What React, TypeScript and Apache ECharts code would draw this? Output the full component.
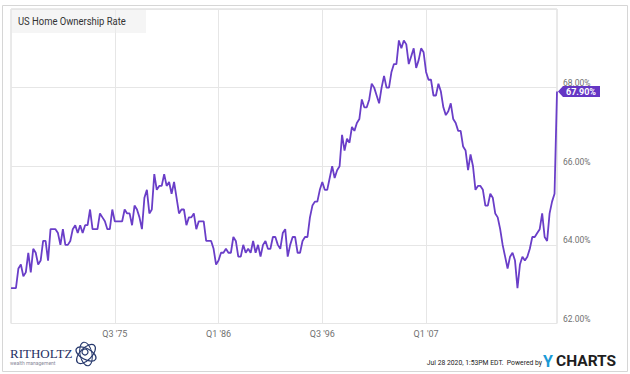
import React, { useEffect, useRef } from 'react';
import * as echarts from 'echarts';

// Quarter categories Q1 1965 .. Q2 2020
const firstYear = 1965;
const lastYear = 2020;
const lastQuarter = 2;
const quarters: string[] = [];
for (let y = firstYear; y <= lastYear; y++) {
  for (let q = 1; q <= 4; q++) {
    if (y === lastYear && q > lastQuarter) break;
    quarters.push(`Q${q} '${String(y).slice(2)}`);
  }
}

const xTickLabels = ["Q3 '75", "Q1 '86", "Q3 '96", "Q1 '07"];
const yMin = 62;
const yMax = 70;
const yStep = 2;

// US home ownership rate (%), quarterly
const rate1965to1974 = [
  62.9, 62.9, 62.9, 63.4,
  63.5, 63.2, 63.3, 63.8,
  63.3, 63.9, 63.8, 63.5,
  63.6, 64.1, 64.1, 63.6,
  64.4, 64.4, 64.4, 64.3,
  64.0, 64.4, 64.0, 64.0,
  64.1, 64.4, 64.5, 64.3,
  64.5, 64.3, 64.5, 64.5,
  64.9, 64.4, 64.4, 64.4,
  64.8, 64.7, 64.6, 64.4,
];
const rate1975to1984 = [
  64.4, 64.9, 64.6, 64.6,
  64.6, 64.6, 64.9, 64.8,
  64.8, 64.5, 65.0, 64.9,
  64.7, 64.4, 65.2, 65.4,
  64.8, 64.9, 65.8, 65.4,
  65.5, 65.5, 65.8, 65.5,
  65.6, 65.3, 65.6, 65.2,
  64.8, 64.9, 64.9, 64.5,
  64.7, 64.7, 64.8, 64.4,
  64.6, 64.6, 64.6, 64.1,
];
const rate1985to1994 = [
  64.1, 64.1, 63.9, 63.5,
  63.6, 63.8, 63.8, 63.9,
  63.8, 63.8, 64.2, 64.1,
  63.7, 63.7, 64.0, 63.8,
  63.9, 63.8, 64.1, 63.8,
  64.0, 63.7, 64.0, 64.1,
  63.9, 63.9, 64.2, 64.2,
  64.0, 63.9, 64.3, 64.4,
  63.7, 64.0, 64.2, 64.2,
  63.8, 63.8, 64.1, 64.2,
];
const rate1995to2004 = [
  64.2, 64.7, 65.0, 65.1,
  65.1, 65.4, 65.6, 65.4,
  65.4, 65.7, 66.0, 65.7,
  65.9, 66.0, 66.8, 66.4,
  66.7, 66.6, 67.0, 66.9,
  67.1, 67.2, 67.7, 67.5,
  67.5, 67.7, 68.1, 68.0,
  67.8, 67.6, 68.0, 68.3,
  68.0, 68.0, 68.4, 68.6,
  68.6, 69.2, 69.0, 69.2,
];
const rate2005to2014 = [
  69.1, 68.6, 68.8, 69.0,
  68.5, 68.7, 69.0, 68.9,
  68.4, 68.2, 68.2, 67.8,
  67.8, 68.1, 67.9, 67.5,
  67.3, 67.4, 67.6, 67.2,
  67.1, 66.9, 66.9, 66.5,
  66.4, 65.9, 66.3, 66.0,
  65.4, 65.5, 65.5, 65.4,
  65.0, 65.0, 65.3, 65.2,
  64.8, 64.7, 64.4, 64.0,
];
const rate2015to2020 = [
  63.7, 63.4, 63.7, 63.8,
  63.6, 62.9, 63.5, 63.7,
  63.6, 63.7, 63.9, 64.2,
  64.2, 64.3, 64.4, 64.8,
  64.2, 64.1, 64.8, 65.1,
  65.3, 67.9,
];

const rates = [
  ...rate1965to1974,
  ...rate1975to1984,
  ...rate1985to1994,
  ...rate1995to2004,
  ...rate2005to2014,
  ...rate2015to2020,
];

const LINE = '#6a3ec8';
const TAG = '#6536c4';

export default function App() {
  const ref = useRef<HTMLDivElement>(null);
  useEffect(() => {
    if (!ref.current) return;
    const chart = echarts.init(ref.current, undefined, { renderer: 'svg' });
    const lastIdx = rates.length - 1;
    chart.setOption({
      animation: false,
      backgroundColor: '#ffffff',
      grid: {
        show: true,
        left: 11,
        top: 9,
        right: 73,
        bottom: 50.5,
        borderColor: '#d4d4d4',
        borderWidth: 1,
        backgroundColor: 'transparent',
      },
      xAxis: {
        type: 'category',
        data: quarters,
        boundaryGap: false,
        axisLine: { show: false },
        axisTick: { show: false },
        axisLabel: {
          interval: (_i: number, v: string) => xTickLabels.includes(v),
          color: '#707070',
          fontFamily: 'Roboto',
          fontSize: 9,
          margin: 6,
        },
        splitLine: {
          show: true,
          interval: (_i: number, v: string) => xTickLabels.includes(v),
          lineStyle: { color: '#e6e6e6', width: 1 },
        },
      },
      yAxis: {
        type: 'value',
        position: 'right',
        min: yMin,
        max: yMax,
        interval: yStep,
        axisLine: { show: false },
        axisTick: { show: false },
        axisLabel: {
          formatter: (v: number) => (v === yMax ? '' : v.toFixed(2) + '%'),
          color: '#707070',
          fontFamily: 'Roboto',
          fontSize: 8.5,
          margin: 6,
          verticalAlign: 'bottom',
        },
        splitLine: { lineStyle: { color: '#e6e6e6', width: 1 } },
      },
      series: [
        {
          type: 'line',
          data: rates,
          showSymbol: false,
          symbol: 'none',
          lineStyle: { color: LINE, width: 1.8 },
          itemStyle: { color: LINE },
          z: 3,
          markPoint: {
            symbol: 'path://M0,5.5 L5,0 L42,0 L42,11 L5,11 Z',
            symbolSize: [42, 11],
            symbolKeepAspect: false,
            symbolOffset: [22, 0],
            itemStyle: { color: TAG },
            label: {
              show: true,
              formatter: (p: any) => Number(p.value).toFixed(2) + '%',
              color: '#ffffff',
              fontWeight: 'bold',
              fontFamily: 'Roboto',
              fontSize: 9,
              offset: [2, 0.5],
            },
            data: [{ coord: [quarters[lastIdx], rates[lastIdx]], value: rates[lastIdx] }],
            z: 10,
          },
        },
      ],
      graphic: [
        {
          type: 'rect',
          shape: { x: 2.5, y: 5.5, width: 625, height: 366 },
          style: { fill: 'none', stroke: '#d6d6d6', lineWidth: 1 },
          silent: true,
          z: -1,
        },
        {
          type: 'rect',
          shape: { x: 12, y: 10, width: 134, height: 23 },
          style: { fill: 'rgba(236,236,236,0.55)' },
          silent: true,
          z: 1,
        },
        {
          type: 'text',
          x: 18,
          y: 21,
          scaleX: 0.9,
          style: {
            text: 'US Home Ownership Rate',
            fill: '#333333',
            fontFamily: 'Roboto',
            fontSize: 10.5,
            verticalAlign: 'middle',
          },
          z: 2,
        },
        // Ritholtz logo
        {
          type: 'text',
          x: 10,
          y: 353,
          style: {
            text: 'RITHOLTZ',
            fill: '#1f2f63',
            fontFamily: 'Liberation Serif',
            fontSize: 13,
            verticalAlign: 'middle',
          },
        },
        {
          type: 'text',
          x: 10,
          y: 363,
          style: {
            text: 'wealth management',
            fill: '#8a8a9a',
            fontFamily: 'Roboto',
            fontSize: 5,
            verticalAlign: 'middle',
          },
        },
        {
          type: 'ellipse',
          x: 86,
          y: 354,
          rotation: 0.8,
          shape: { cx: 0, cy: 0, rx: 12, ry: 6 },
          style: { fill: 'none', stroke: '#26386c', lineWidth: 1.2 },
        },
        {
          type: 'ellipse',
          x: 86,
          y: 354,
          rotation: -0.5,
          shape: { cx: 0, cy: 0, rx: 11, ry: 5.5 },
          style: { fill: 'none', stroke: '#26386c', lineWidth: 1.2 },
        },
        {
          type: 'ellipse',
          x: 86,
          y: 354,
          rotation: 0.2,
          shape: { cx: 0, cy: 0, rx: 6, ry: 12 },
          style: { fill: 'none', stroke: '#26386c', lineWidth: 1 },
        },
        {
          type: 'circle',
          shape: { cx: 85, cy: 352, r: 3 },
          style: { fill: 'none', stroke: '#26386c', lineWidth: 1.2 },
        },
        // footer
        {
          type: 'text',
          x: 542,
          y: 362,
          scaleX: 0.85,
          style: {
            text: 'Jul 28 2020, 1:53PM EDT.  Powered by',
            fill: '#222222',
            fontFamily: 'Roboto',
            fontSize: 8,
            align: 'right',
            verticalAlign: 'middle',
          },
        },
        {
          type: 'text',
          x: 543,
          y: 361,
          style: {
            text: 'Y',
            fill: '#1a9ad6',
            fontFamily: 'Roboto',
            fontWeight: 'bold',
            fontSize: 16,
            verticalAlign: 'middle',
          },
        },
        {
          type: 'text',
          x: 556,
          y: 361,
          style: {
            text: 'CHARTS',
            fill: '#1e1e1e',
            fontFamily: 'Roboto',
            fontWeight: 'bold',
            fontSize: 15.5,
            verticalAlign: 'middle',
          },
        },
      ],
    });
    return () => chart.dispose();
  }, []);
  return (
    <div
      ref={ref}
      style={{ position: 'fixed', left: 0, top: 0, width: 630, height: 374, background: '#fff' }}
    />
  );
}
